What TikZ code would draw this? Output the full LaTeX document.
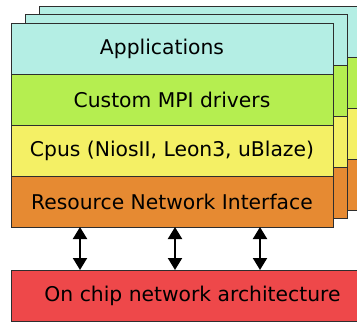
\documentclass[tikz,border=0pt]{standalone}
\usepackage{fontspec}
\setmainfont{DejaVu Sans}
\usetikzlibrary{arrows.meta}
\definecolor{appcol}{HTML}{B4EEE4}
\definecolor{mpicol}{HTML}{B5EE50}
\definecolor{cpucol}{HTML}{F4F065}
\definecolor{rnicol}{HTML}{E68A32}
\definecolor{noccol}{HTML}{EE484A}
\definecolor{edgecol}{HTML}{2E2E2E}

\begin{document}
\begin{tikzpicture}[x=1pt,y=-1pt,
  layer/.style={draw=edgecol,line width=1pt,outer sep=0pt,inner sep=0pt,
    minimum width=322pt,minimum height=51pt,font=\fontsize{20.3}{24}\selectfont},
  link/.style={line width=2pt,{Triangle[length=12pt,width=14pt]}-{Triangle[length=12pt,width=14pt]}}]
  \useasboundingbox (0,0) rectangle (357,322);
  \clip (0,0) rectangle (357,322);
  % stacks behind the front one
  \foreach \dx/\dy/\s in {28/-17/c,14/-9/b} {
    \foreach \col [count=\i] in {appcol,mpicol,cpucol,rnicol}
      \node[layer,fill=\col] (\s\i) at (172+\dx,{-2.5+51*\i+\dy}) {};
  }
  % front stack
  \node[layer,fill=appcol] (app) at (172,48.5) {Applications\kern20pt};
  \node[layer,fill=mpicol] (mpi) at (172,99.5) {Custom MPI drivers};
  \node[layer,fill=cpucol] (cpu) at (172,150.5) {Cpus (NiosII, Leon3, uBlaze)};
  \node[layer,fill=rnicol] (rni) at (172,201.5) {Resource Network Interface};
  \node[layer,fill=noccol,minimum width=363pt] (noc) at (192.5,295.5) {On chip network architecture};
  \foreach \dx in {-92,3,88}
    \draw[link] ([xshift=\dx]rni.south) -- ([xshift=\dx]rni.south |- noc.north);
\end{tikzpicture}
\end{document}
